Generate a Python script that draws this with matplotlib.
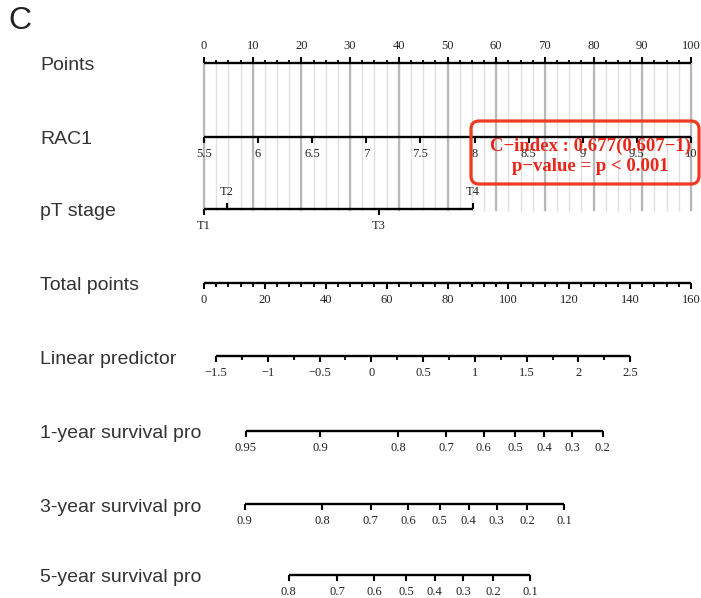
import numpy as np
import matplotlib
matplotlib.use("Agg")
import matplotlib.pyplot as plt
from matplotlib.patches import FancyBboxPatch

# ---- nomogram data ----
points_major = np.arange(0, 101, 10)
points_minor = np.arange(0, 100.1, 2.5)

rac1_ticks = [5.5, 6, 6.5, 7, 7.5, 8, 8.5, 9, 9.5, 10]
rac1_lo, rac1_hi = 5.5, 10

pt_levels = ["T1", "T2", "T3", "T4"]
pt_points = [0, 4.7, 35.9, 55.2]
pt_above = [False, True, False, True]

total_major = np.arange(0, 161, 20)
total_minor = np.arange(0, 160.1, 4)
total_max = 160

lp_major = [-1.5, -1, -0.5, 0, 0.5, 1, 1.5, 2, 2.5]
lp_minor = np.arange(-1.5, 2.51, 0.25)
lp_intercept = -1.616
lp_slope = 0.02939

surv1_ticks = [0.95, 0.9, 0.8, 0.7, 0.6, 0.5, 0.4, 0.3, 0.2]
surv3_ticks = [0.9, 0.8, 0.7, 0.6, 0.5, 0.4, 0.3, 0.2, 0.1]
surv5_ticks = [0.8, 0.7, 0.6, 0.5, 0.4, 0.3, 0.2, 0.1]
log_h0_1, log_h0_3, log_h0_5 = -1.756, -1.026, -0.70

row_names = ["Points", "RAC1", "pT stage", "Total points", "Linear predictor",
             "1-year survival pro", "3-year survival pro", "5-year survival pro"]
row_y = [63, 137, 209, 283, 356, 431, 504, 575]

cindex_text = "C\u2212index : 0.677(0.607\u22121)\np\u2212value = p < 0.001"


# ---- conversions to the points scale ----
def rac1_to_pts(v):
    return (np.asarray(v) - rac1_lo) / (rac1_hi - rac1_lo) * 100

def tp_to_pts(tp):
    return np.asarray(tp) * 100 / total_max

def lp_to_pts(lp):
    return tp_to_pts((np.asarray(lp) - lp_intercept) / lp_slope)

def surv_to_pts(s, log_h0):
    s = np.asarray(s)
    return lp_to_pts(np.log(-np.log(s)) - log_h0)

def fmt(v):
    return f"{v:g}".replace("-", "\u2212")


SERIF = "Liberation Serif"
SANS = "Liberation Sans"
MAJ, MIN = 6, 3.5


def draw_scale(ax, y, pos, labels, minor=None, up=False, label_up=None):
    pos = np.asarray(pos, dtype=float)
    ax.plot([pos.min(), pos.max()], [y, y], color="black", lw=1.7,
            solid_capstyle="butt", zorder=3)
    d = -1 if up else 1
    if minor is not None:
        ax.vlines(minor, y, y + d * MIN, color="black", lw=1.3, zorder=3)
    if label_up is None:
        label_up = [up] * len(pos)
    for p, lab, lu in zip(pos, labels, label_up):
        dd = -1 if lu else 1
        ax.vlines(p, y, y + dd * MAJ, color="black", lw=1.5, zorder=3)
        ax.text(p, y + dd * 17, lab, ha="center", va="center",
                fontsize=9, family=SERIF, color="#222222")


fig = plt.figure(figsize=(7.01, 5.98), dpi=100)
ax = fig.add_axes([0, 0, 1, 1])
scale = 4.87  # px per point
ax.set_xlim(-204 / scale, (701 - 204) / scale)
ax.set_ylim(598, 0)
ax.axis("off")

# grid lines
ax.vlines(points_minor, row_y[0], row_y[2] + 2, color="#e0e0e0", lw=1.0, zorder=1)
ax.vlines(points_major, row_y[0], row_y[2] + 2, color="#b8b8b8", lw=1.6, zorder=1)

draw_scale(ax, row_y[0], points_major, [fmt(v) for v in points_major],
           minor=points_minor, up=True)
draw_scale(ax, row_y[1], rac1_to_pts(rac1_ticks), [fmt(v) for v in rac1_ticks])
draw_scale(ax, row_y[2], pt_points, pt_levels, label_up=pt_above)
draw_scale(ax, row_y[3], tp_to_pts(total_major), [fmt(v) for v in total_major],
           minor=tp_to_pts(total_minor))
draw_scale(ax, row_y[4], lp_to_pts(lp_major), [fmt(v) for v in lp_major],
           minor=lp_to_pts(lp_minor))
draw_scale(ax, row_y[5], surv_to_pts(surv1_ticks, log_h0_1), [fmt(v) for v in surv1_ticks])
draw_scale(ax, row_y[6], surv_to_pts(surv3_ticks, log_h0_3), [fmt(v) for v in surv3_ticks])
draw_scale(ax, row_y[7], surv_to_pts(surv5_ticks, log_h0_5), [fmt(v) for v in surv5_ticks])

# row names on the left
for name, y in zip(row_names, row_y):
    ax.text(40 / 701, y + 3, name, transform=ax.get_yaxis_transform(),
            ha="left", va="center", fontsize=14, family=SANS, color="#333333")

# panel letter
fig.text(8 / 701, 1 - 21 / 598, "C", ha="left", va="center",
         fontsize=23, family=SANS, color="#222222")

# c-index box (overlay in pixel coords)
ov = fig.add_axes([0, 0, 1, 1], facecolor="none")
ov.set_xlim(0, 701)
ov.set_ylim(598, 0)
ov.axis("off")
ov.add_patch(FancyBboxPatch((471, 121), 228, 63,
                            boxstyle="round,pad=0,rounding_size=8",
                            ec="#f03a22", fc="none", lw=2.3))
ov.text(590, 156, cindex_text, ha="center", va="center", fontsize=13.5,
        family=SERIF, fontweight="bold", color="#e8261a", linespacing=1.25)

fig.savefig("out.png", dpi=100)
